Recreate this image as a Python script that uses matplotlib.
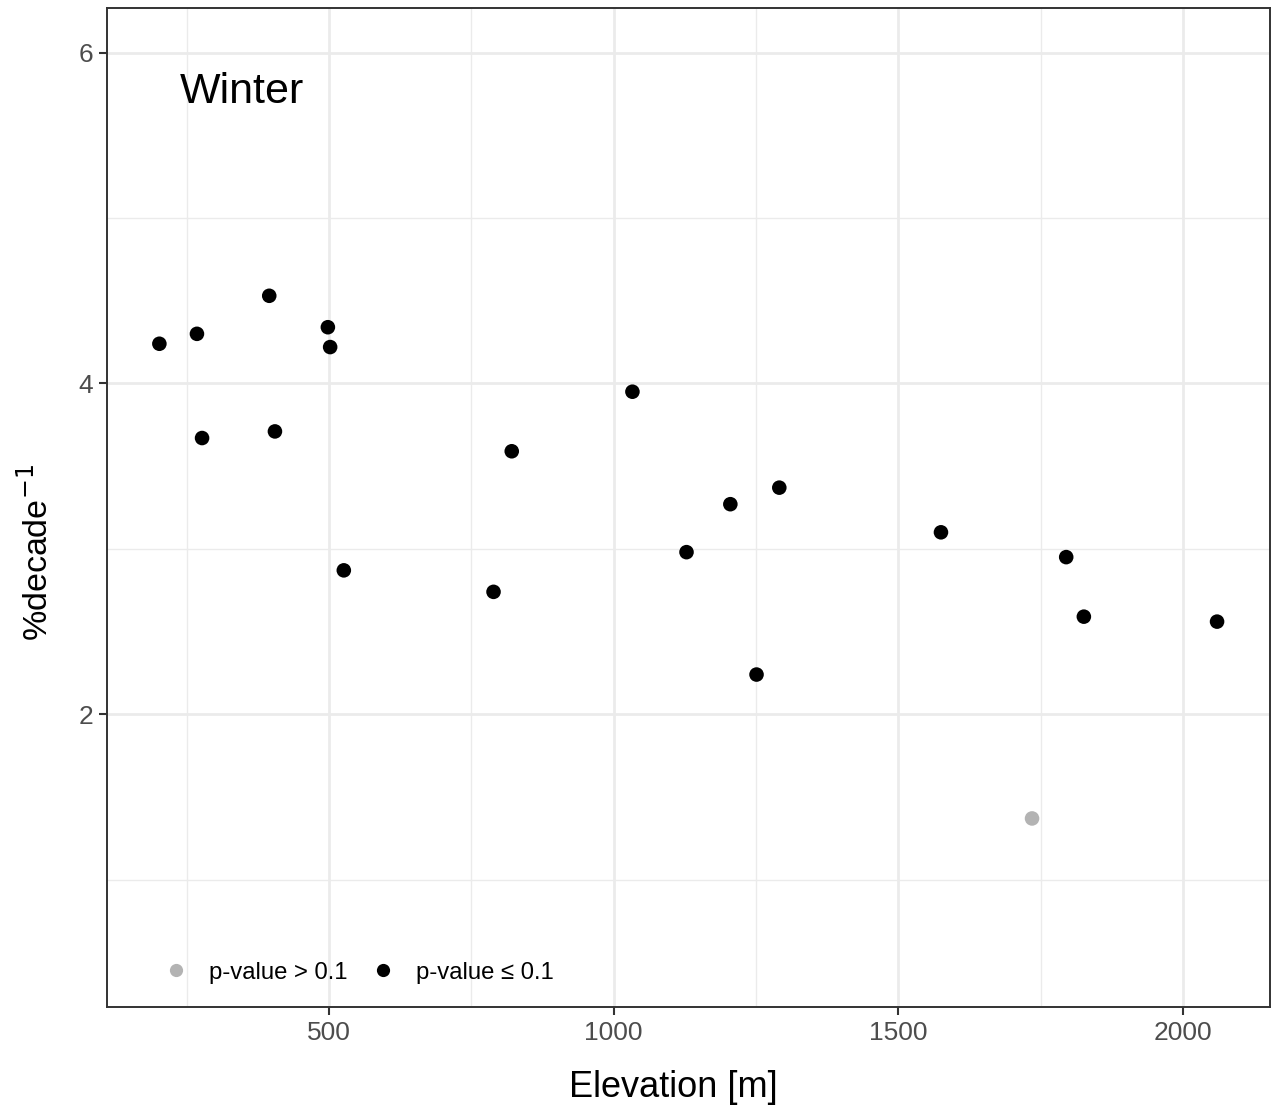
import matplotlib
matplotlib.use("Agg")
import matplotlib.pyplot as plt
from matplotlib.lines import Line2D

plt.rcParams["font.family"] = ["Liberation Sans", "DejaVu Sans"]

# Winter-Trend vs. Stationshoehe
elev = [202, 268, 395, 277, 405, 498, 502, 526, 789, 821,
        1033, 1128, 1205, 1251, 1291, 1575, 1735, 1795, 1826, 2060]
trend = [4.24, 4.30, 4.53, 3.67, 3.71, 4.34, 4.22, 2.87, 2.74, 3.59,
         3.95, 2.98, 3.27, 2.24, 3.37, 3.10, 1.37, 2.95, 2.59, 2.56]
signif = [True] * 16 + [False] + [True] * 3

fig = plt.figure(figsize=(12.71, 11.10), dpi=100)
ax = fig.add_axes([107 / 1271, 103 / 1110, 1163 / 1271, 999 / 1110])

col = ["black" if s else "#B3B3B3" for s in signif]
ax.scatter(elev, trend, c=col, s=110, linewidths=0, zorder=3)

ax.set_xlim(110, 2153)
ax.set_ylim(0.23, 6.27)
ax.set_xticks([500, 1000, 1500, 2000])
ax.set_xticks([250, 750, 1250, 1750], minor=True)
ax.set_yticks([2, 4, 6])
ax.set_yticks([1, 3, 5], minor=True)
ax.grid(which="major", color="#EBEBEB", lw=2.0, zorder=0)
ax.grid(which="minor", color="#EBEBEB", lw=1.0, zorder=0)
ax.tick_params(which="major", length=6, width=1.5, color="#333333",
               labelsize=19, labelcolor="#4D4D4D", pad=4)
ax.tick_params(which="minor", length=0)
for s in ax.spines.values():
    s.set_color("#333333"); s.set_linewidth(1.4)

ax.set_xlabel("Elevation [m]", fontsize=26)
ax.xaxis.set_label_coords(0.487, -0.063)
ax.set_ylabel("%decade$^{-1}$", fontsize=24.5)
ax.yaxis.set_label_coords(-0.0455, 0.455)
ax.text(0.063, 0.905, "Winter", transform=ax.transAxes, fontsize=31, va="baseline")

hnd = [Line2D([], [], ls="", marker="o", ms=9.5, mec="none", color="#B3B3B3"),
       Line2D([], [], ls="", marker="o", ms=9.5, mec="none", color="black")]
ax.legend(hnd, ["p-value > 0.1", "p-value ≤ 0.1"], loc="lower left", ncol=2,
          frameon=False, fontsize=17.2, bbox_to_anchor=(0.031, 0.002),
          handlelength=1.0, handletextpad=0.88, columnspacing=0.96)

fig.savefig("out.png", dpi=100)
